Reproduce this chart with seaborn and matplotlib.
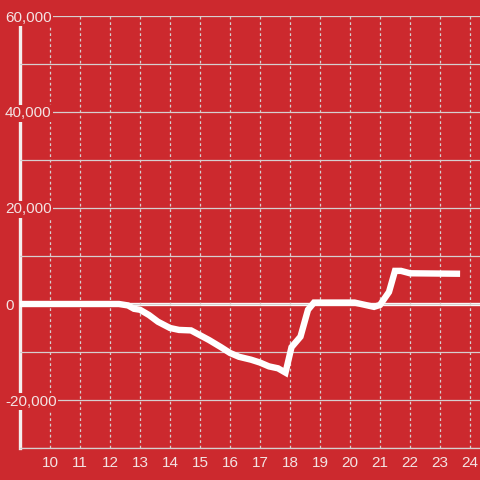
import pandas as pd
import seaborn as sns
import matplotlib.pyplot as plt
from matplotlib.ticker import FuncFormatter, MultipleLocator

# values
hours = [9, 12.3, 12.6, 12.8, 13.0, 13.3, 13.6, 14.0, 14.3, 14.7, 15.0, 15.3,
         15.7, 16.0, 16.3, 16.7, 17.0, 17.3, 17.6, 17.85, 18.05, 18.35, 18.6,
         18.8, 20.15, 20.8, 21.0, 21.3, 21.5, 21.7, 22.0, 23.67]
balance = [0, 0, -300, -1000, -1200, -2300, -3700, -5000, -5400, -5500, -6500,
           -7500, -9000, -10200, -11000, -11600, -12200, -13000, -13400, -14300,
           -9000, -6800, -1200, 300, 300, -600, -200, 2500, 6900, 6900, 6400, 6300]
x_ticks = list(range(10, 25))
y_label_ticks = [-20000, 0, 20000, 40000, 60000]

RED = "#cc292e"
TXT = "#f3e3e3"
GRID = "#d6cfcf"

sns.set_style("white", {"axes.facecolor": RED, "figure.facecolor": RED})
plt.rcParams["font.family"] = ["Liberation Sans", "DejaVu Sans"]

df = pd.DataFrame({"hour": hours, "balance": balance})

fig = plt.figure(figsize=(4.8, 4.8), dpi=100)
ax = fig.add_axes([20 / 480, 32 / 480, 460 / 480, 432 / 480])

ax.axhline(0, color="white", lw=2.4, zorder=2)
sns.lineplot(data=df, x="hour", y="balance", ax=ax, color="white", lw=4.6,
             zorder=3, solid_joinstyle="miter", solid_capstyle="butt")

ax.set_xlim(9, 9 + 460 / 30)
ax.set_ylim(-30000, 60000)
ax.set_xlabel("")
ax.set_ylabel("")

ax.set_xticks(x_ticks)
ax.set_yticks(y_label_ticks)
ax.yaxis.set_minor_locator(MultipleLocator(10000))
ax.yaxis.set_major_formatter(FuncFormatter(lambda v, p: f"{int(v):,}".replace("-", "-")))

ax.set_axisbelow(False)
ax.grid(axis="y", which="both", color=GRID, lw=0.9)
ax.grid(axis="x", which="major", color=GRID, lw=0.9, linestyle=(0, (2.2, 2.2)))

ax.tick_params(axis="x", length=0, pad=6, labelsize=11, labelcolor=TXT)
ax.tick_params(axis="y", which="both", length=0, pad=10.8, labelsize=11, labelcolor=TXT)
for lab in ax.get_yticklabels():
    lab.set_horizontalalignment("left")
    lab.set_bbox(dict(facecolor=RED, edgecolor="none", pad=1.0))

for side in ["top", "right"]:
    ax.spines[side].set_visible(False)
ax.spines["left"].set_color("#f4eeee")
ax.spines["left"].set_linewidth(2.4)
ax.spines["bottom"].set_color(GRID)
ax.spines["bottom"].set_linewidth(0.9)

fig.savefig("out.png", dpi=100, facecolor=RED)
